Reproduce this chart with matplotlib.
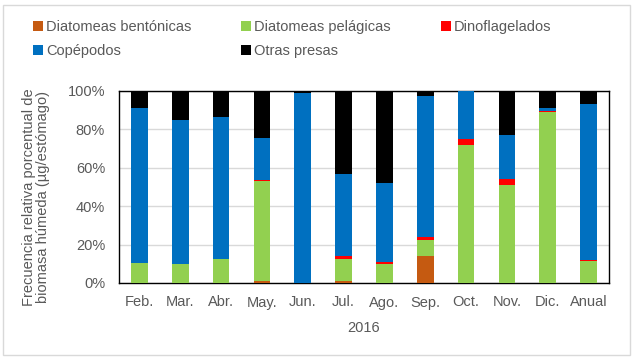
import matplotlib
matplotlib.use("Agg")
import matplotlib.pyplot as plt
from matplotlib.patches import Rectangle
import numpy as np

plt.rcParams['font.family'] = ['Liberation Sans', 'DejaVu Sans']

months = ["Feb.", "Mar.", "Abr.", "May.", "Jun.", "Jul.", "Ago.", "Sep.", "Oct.", "Nov.", "Dic.", "Anual"]
bentonicas = [0.0, 0.0, 0.0, 1.0, 0.0, 1.0, 0.0, 14.0, 0.0, 0.0, 0.0, 0.2]
pelagicas = [10.2, 10.0, 12.4, 52.0, 0.0, 11.4, 10.0, 8.5, 72.0, 51.0, 89.3, 11.5]
dinoflagelados = [0.2, 0.0, 0.0, 0.6, 0.0, 1.6, 0.8, 1.2, 2.8, 3.0, 0.5, 0.2]
copepodos = [80.9, 74.7, 73.8, 22.0, 98.8, 43.0, 41.4, 73.5, 25.2, 23.3, 1.5, 81.1]
otras = [8.7, 15.3, 13.8, 24.4, 1.2, 43.0, 47.8, 2.8, 0.0, 22.7, 8.7, 7.0]

series = [
    ("Diatomeas bentónicas", bentonicas, "#C55A11"),
    ("Diatomeas pelágicas", pelagicas, "#92D050"),
    ("Dinoflagelados", dinoflagelados, "#FF0000"),
    ("Copépodos", copepodos, "#0070C0"),
    ("Otras presas", otras, "#000000"),
]

FS = 10.5
TXT = "#595959"

fig = plt.figure(figsize=(6.35, 3.6), dpi=100)
fig.patches.append(Rectangle((3/635, 5/360), 627/635, 350/360, transform=fig.transFigure,
                             fill=False, edgecolor="#D9D9D9", linewidth=1))
ax = fig.add_axes([119/635, 1-283/360, 490/635, 192/360])

x = np.arange(len(months))
bottom = np.zeros(len(months))
handles = {}
for name, vals, color in series:
    v = np.array(vals)
    b = ax.bar(x, v, 0.41, bottom=bottom, color=color, label=name, zorder=3)
    handles[name] = b
    bottom += v

ax.set_xlim(-0.5, len(months) - 0.5)
ax.set_ylim(0, 100)
ax.set_yticks(np.arange(0, 101, 20))
ax.set_yticklabels([f"{t}%" for t in range(0, 101, 20)])
ax.set_xticks(x)
ax.set_xticklabels(months)
ax.tick_params(axis='both', length=0, labelsize=FS, colors=TXT)
ax.tick_params(axis='x', pad=9)
ax.tick_params(axis='y', pad=10)
ax.yaxis.grid(True, color="#D9D9D9", linewidth=1, zorder=0)
ax.set_axisbelow(True)
for s in ax.spines.values():
    s.set_color("black")
    s.set_linewidth(1)
ax.set_xlabel("2016", fontsize=FS, color=TXT, labelpad=8.5)
ax.set_ylabel("Frecuencia relativa porcentual de\nbiomasa húmeda (µg/estómago)", fontsize=FS,
              color=TXT, linespacing=1.0)
ax.yaxis.set_label_coords((50 - 119) / 490, (283 - 197) / 192)

order = ["Diatomeas bentónicas", "Copépodos", "Diatomeas pelágicas", "Otras presas", "Dinoflagelados"]
leg = fig.legend([handles[n] for n in order], order, ncol=3, loc="upper left",
                 bbox_to_anchor=(20/635, 1-7/360), frameon=False, fontsize=FS,
                 handlelength=0.7, handleheight=0.7, handletextpad=0.2,
                 columnspacing=3.4, labelspacing=0.7)
for t in leg.get_texts():
    t.set_color(TXT)

fig.savefig("out.png", dpi=100)
